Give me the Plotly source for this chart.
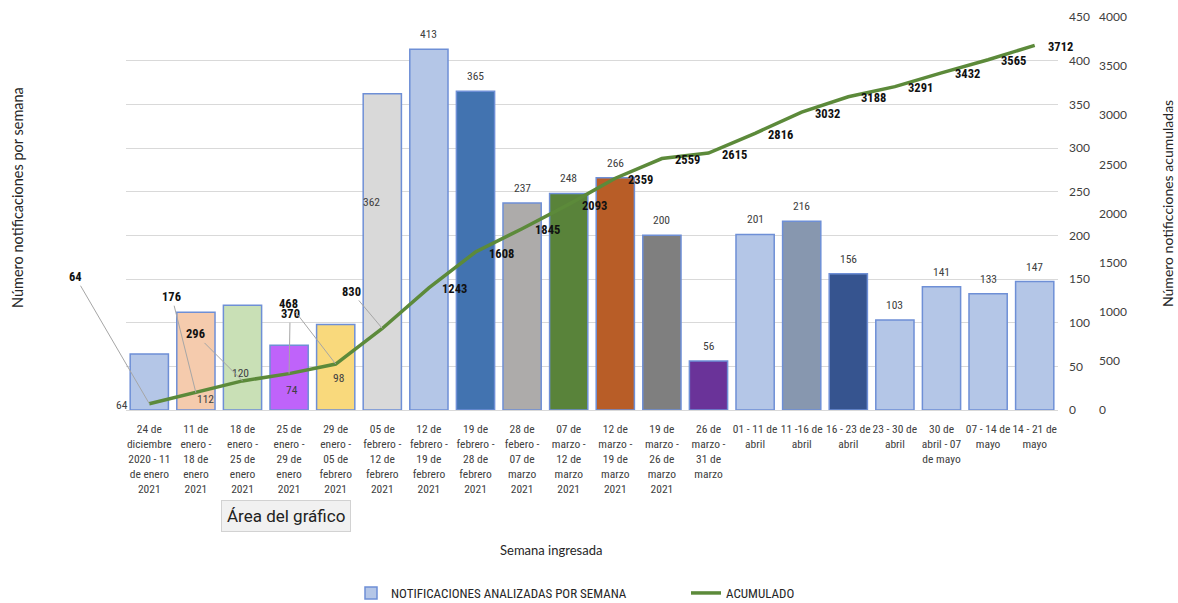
import plotly.graph_objects as go

# ---------------- data ----------------
week_labels = [
    "24 de<br>diciembre<br>2020 - 11<br>de enero<br>2021",
    "11 de<br>enero -<br>18 de<br>enero<br>2021",
    "18 de<br>enero -<br>25 de<br>enero<br>2021",
    "25 de<br>enero -<br>29 de<br>enero<br>2021",
    "29 de<br>enero -<br>05 de<br>febrero<br>2021",
    "05 de<br>febrero -<br>12 de<br>febrero<br>2021",
    "12 de<br>febrero -<br>19 de<br>febrero<br>2021",
    "19 de<br>febrero -<br>28 de<br>febrero<br>2021",
    "28 de<br>febero -<br>07 de<br>marzo<br>2021",
    "07 de<br>marzo -<br>12 de<br>marzo<br>2021",
    "12 de<br>marzo -<br>19 de<br>marzo<br>2021",
    "19 de<br>marzo -<br>26 de<br>marzo<br>2021",
    "26 de<br>marzo -<br>31 de<br>marzo",
    "01 - 11 de<br>abril",
    "11 -16 de<br>abril",
    "16 - 23 de<br>abril",
    "23 - 30 de<br>abril",
    "30 de<br>abril - 07<br>de mayo",
    "07 - 14 de<br>mayo",
    "14 - 21 de<br>mayo",
]
weekly = [64, 112, 120, 74, 98, 362, 413, 365, 237, 248, 266, 200, 56,
          201, 216, 156, 103, 141, 133, 147]
cumulative = [64, 176, 296, 370, 468, 830, 1243, 1608, 1845, 2093, 2359,
              2559, 2615, 2816, 3032, 3188, 3291, 3432, 3565, 3712]
bar_colors = ["#b4c6e7", "#f5cbad", "#c9e0b6", "#bf63fa", "#f9d97c", "#d9d9d9",
              "#b4c6e7", "#4273b0", "#adabaa", "#59833a", "#b85d27", "#7f7f7f",
              "#6a3399", "#b4c6e7", "#8797af", "#36548f", "#b4c6e7", "#b4c6e7",
              "#b4c6e7", "#b4c6e7"]

x_idx = list(range(len(weekly)))

NARROW = "Liberation Sans Narrow, Roboto Condensed, Lato, sans-serif"
REG = "Lato, Open Sans, sans-serif"

L, R, T, B = 126, 10, 17, 193
PW = 1178 - L - R
PH = 603 - T - B


def px(xp):
    return (xp - L) / PW


def py(yp):
    return (603 - B - yp) / PH


fig = go.Figure()
fig.add_trace(go.Bar(
    x=x_idx, y=weekly, name="NOTIFICACIONES ANALIZADAS POR SEMANA",
    marker=dict(color=bar_colors, line=dict(color="#6e8fd6", width=1.5)),
    yaxis="y",
))
fig.add_trace(go.Scatter(
    x=x_idx, y=cumulative, name="ACUMULADO", mode="lines",
    line=dict(color="#5c8a3a", width=3.5),
    yaxis="y2",
))

annotations = []
# bar value labels (above bars), first six placed individually as in the source
special_bar = {0: (-27, 5), 1: (10, 11), 2: (-2, 37), 3: (3, 20), 4: (3, 32), 5: (-11, 208)}
for i, v in enumerate(weekly):
    if i in special_bar:
        xs, ys = special_bar[i]
        annotations.append(dict(x=i, y=0, xref="x", yref="y", text=str(v),
                                showarrow=False, xshift=xs, yshift=ys,
                                font=dict(family=NARROW, size=11.5, color="#404040")))
    else:
        annotations.append(dict(x=i, y=v, xref="x", yref="y", text=str(v),
                                showarrow=False, yanchor="bottom", yshift=6,
                                font=dict(family=NARROW, size=11.5, color="#404040")))

# cumulative labels
leader = {0: (-74, -127), 1: (-24, -96), 2: (-47, -47), 3: (1, -60), 4: (-47, -61), 5: (-31, -37)}
for i, c in enumerate(cumulative):
    if i in leader:
        ax, ay = leader[i]
        annotations.append(dict(x=i, y=c, xref="x", yref="y2", text="<b>%d</b>" % c,
                                showarrow=True, arrowhead=0, arrowwidth=1,
                                arrowcolor="#a6a6a6", ax=ax, ay=ay, standoff=0,
                                font=dict(family=NARROW, size=12.5, color="#111111")))
    else:
        annotations.append(dict(x=i, y=c, xref="x", yref="y2", text="<b>%d</b>" % c,
                                showarrow=False, xanchor="left", xshift=11, yshift=-1,
                                font=dict(family=NARROW, size=12.5, color="#111111")))

# axis titles
annotations.append(dict(xref="paper", yref="paper", x=px(18), y=py(198),
                        xanchor="center", yanchor="middle",
                        text="Número notificaciones por semana", textangle=-90,
                        showarrow=False, font=dict(family=REG, size=14.5, color="#262626")))
annotations.append(dict(xref="paper", yref="paper", x=px(1167), y=py(204),
                        xanchor="center", yanchor="middle",
                        text="Número notificciones acumuladas", textangle=-90,
                        showarrow=False, font=dict(family=REG, size=14, color="#262626")))
annotations.append(dict(xref="paper", yref="paper", x=px(551), y=py(550),
                        xanchor="center", yanchor="middle",
                        text="Semana ingresada", showarrow=False,
                        font=dict(family=REG, size=13, color="#262626")))
# tooltip overlay seen in the screenshot
annotations.append(dict(xref="paper", yref="paper", x=px(286), y=py(516),
                        xanchor="center", yanchor="middle",
                        text="Área del gráfico", showarrow=False,
                        bgcolor="#f1f1f1", bordercolor="#d2d2d2", borderwidth=1, borderpad=5,
                        font=dict(family="Roboto, sans-serif", size=17, color="#222222")))

fig.update_layout(
    width=1178, height=603,
    margin=dict(l=L, r=R, t=T, b=B, autoexpand=False),
    paper_bgcolor="white", plot_bgcolor="white",
    bargap=0.18,
    showlegend=True,
    legend=dict(orientation="h", xref="container", yref="container",
                x=351 / 1178, xanchor="left",
                y=(603 - 593) / 603, yanchor="middle",
                entrywidth=290, entrywidthmode="pixels",
                font=dict(family=NARROW, size=13, color="#262626")),
    xaxis=dict(domain=[0, px(1058)], range=[-0.5, 19.5], automargin=False,
               tickmode="array", tickvals=x_idx, ticktext=week_labels,
               tickangle=0, showgrid=False, zeroline=False,
               showline=True, linecolor="#d9d9d9", linewidth=1, ticks="",
               ticklabelstandoff=8,
               tickfont=dict(family=NARROW, size=11.5, color="#404040")),
    yaxis=dict(range=[0, 450], dtick=50, side="right", anchor="x", automargin=False,
               showgrid=True, gridcolor="#d9d9d9", gridwidth=1, zeroline=False,
               ticks="", ticklabelstandoff=10,
               tickfont=dict(family=REG, size=12, color="#404040")),
    yaxis2=dict(range=[0, 4000], dtick=500, overlaying="y", side="right",
                anchor="free", position=px(1098), automargin=False,
                showgrid=False, zeroline=False, showline=False, ticks="",
                tickfont=dict(family=REG, size=12, color="#404040")),
    annotations=annotations,
)

fig.write_html("out.html", config={"displayModeBar": False},
               post_script="document.body.style.margin='0';document.body.style.overflow='hidden';")
